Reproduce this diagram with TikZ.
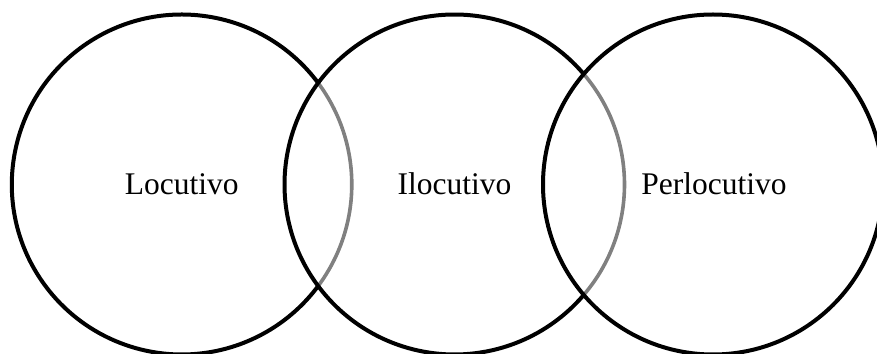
\documentclass[tikz,border=0pt]{standalone}
\usepackage{fontspec}
\setmainfont{Liberation Serif}
\begin{document}
\begin{tikzpicture}[x=1pt,y=1pt,
  ring/.style={line width=4pt,black},
  ringgray/.style={line width=3.6pt,color={rgb,255:red,128;green,128;blue,128}},
  label/.style={font=\fontsize{31.5}{36}\selectfont,anchor=base,inner sep=0}]
\useasboundingbox (0,0) rectangle (877,353);
\clip (0,0) rectangle (877,353);
\coordinate (cL) at (181.8,168.5);
\coordinate (cM) at (454.5,168.5);
\coordinate (cR) at (713,168.5);
% gray arcs first
\draw[ringgray] (cL) ++(-36.67:170) arc[start angle=-36.67,end angle=36.67,radius=170];
\draw[ringgray] (cM) ++(-40.5:170) arc[start angle=-40.5,end angle=40.5,radius=170];
% black arcs
\draw[ring] (cL) ++(36.67:170) arc[start angle=36.67,end angle=323.33,radius=170];
\draw[ring] (cM) ++(40.5:170) arc[start angle=40.5,end angle=319.5,radius=170];
\draw[ring] (cR) circle[radius=170];
\node[label] (tL) at (181.8,158) {Locutivo};
\node[label] (tM) at (454.5,158) {Ilocutivo};
\node[label] (tR) at (714,158) {Perlocutivo};
\end{tikzpicture}
\end{document}
